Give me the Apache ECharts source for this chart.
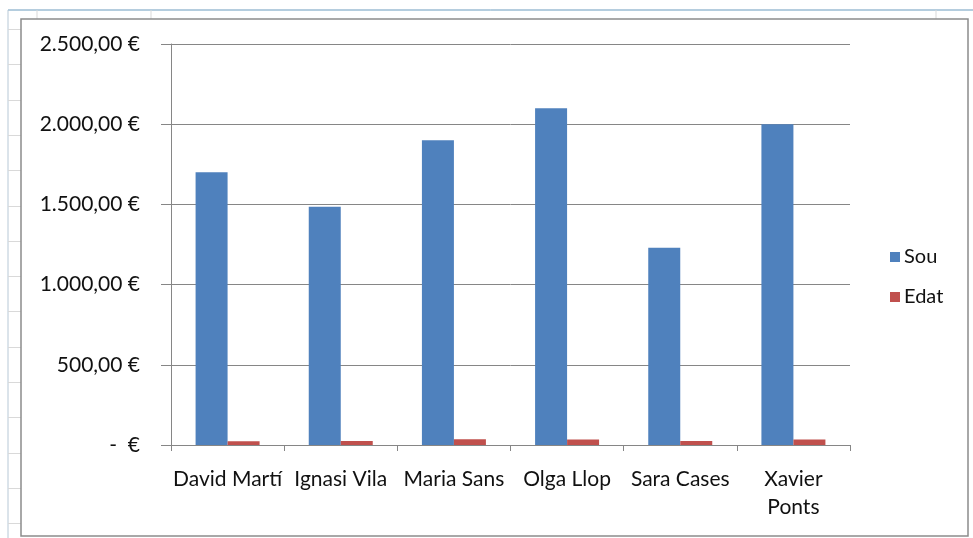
<!DOCTYPE html>
<html>
<head>
<meta charset="utf-8">
<script src="https://cdn.jsdelivr.net/npm/echarts@6/dist/echarts.min.js"></script>
<style>
  html, body { margin: 0; padding: 0; background: #fff; }
  #chart { width: 973px; height: 538px; }
</style>
</head>
<body>
<div id="chart"></div>
<script>
const names = ['David Martí', 'Ignasi Vila', 'Maria Sans', 'Olga Llop', 'Sara Cases', 'Xavier Ponts'];
const sou = [1700, 1485, 1900, 2100, 1230, 2000];
const edat = [24, 25, 36, 35, 25, 35];

// spreadsheet cells behind the chart
const sheet = [
  { type: 'line', shape: { x1: 8, y1: 10, x2: 973, y2: 10 }, style: { stroke: '#6a9bbd', lineWidth: 1 } },
  { type: 'line', shape: { x1: 8, y1: 10, x2: 8, y2: 538 }, style: { stroke: '#b7c8d6', lineWidth: 1 } },
  { type: 'line', shape: { x1: 37, y1: 10, x2: 37, y2: 19 }, style: { stroke: '#d9d9d9', lineWidth: 1 } },
  { type: 'line', shape: { x1: 151, y1: 10, x2: 151, y2: 19 }, style: { stroke: '#d9d9d9', lineWidth: 1 } },
  { type: 'line', shape: { x1: 936, y1: 10, x2: 936, y2: 19 }, style: { stroke: '#d9d9d9', lineWidth: 1 } }
];
for (let y = 29; y < 538; y += 35.3) {
  sheet.push({ type: 'line', shape: { x1: 8, y1: Math.round(y) + 0.5, x2: 21, y2: Math.round(y) + 0.5 }, style: { stroke: '#d9d9d9', lineWidth: 1 } });
}
sheet.push({ type: 'rect', shape: { x: 21, y: 19, width: 947, height: 517 }, style: { fill: '#fff', stroke: '#8c8c8c', lineWidth: 1.5 }, z: -1 });

function euro(v) {
  if (v === 0) return '-  €';
  const s = String(v).replace(/\B(?=(\d{3})+(?!\d))/g, '.');
  return s + ',00 €';
}

const font = 'Lato';
const chart = echarts.init(document.getElementById('chart'));
chart.setOption({
  backgroundColor: '#fff',
  textStyle: { fontFamily: font },
  graphic: sheet.map(g => Object.assign({ silent: true, z: g.z === undefined ? -1 : g.z }, g)),
  grid: { left: 171, right: 123, top: 44, bottom: 93 },
  legend: {
    orient: 'vertical',
    left: 885,
    top: 242,
    itemWidth: 10,
    itemHeight: 10,
    itemGap: 20,
    icon: 'rect',
    textStyle: { fontFamily: font, fontSize: 20, color: '#111', padding: [0, 0, 0, -1] },
    data: ['Sou', 'Edat']
  },
  xAxis: {
    type: 'category',
    data: names,
    axisLine: { lineStyle: { color: '#868686', width: 1 } },
    axisTick: { show: true, length: 6, lineStyle: { color: '#868686' } },
    axisLabel: {
      color: '#111',
      fontSize: 21,
      margin: 20,
      lineHeight: 28,
      interval: 0,
      formatter: v => v === 'Xavier Ponts' ? 'Xavier\nPonts' : v
    }
  },
  yAxis: {
    type: 'value',
    min: 0,
    max: 2500,
    interval: 500,
    axisLine: { show: true, lineStyle: { color: '#868686', width: 1 } },
    axisTick: { show: true, length: 10, lineStyle: { color: '#868686' } },
    splitLine: { lineStyle: { color: '#868686', width: 1 } },
    axisLabel: { color: '#111', fontSize: 21, margin: 31, formatter: euro }
  },
  series: [
    { name: 'Sou', type: 'bar', data: sou, barWidth: 32, barGap: '0%', itemStyle: { color: '#4f81bd' } },
    { name: 'Edat', type: 'bar', data: edat, barWidth: 32, barGap: '0%', itemStyle: { color: '#c0504d' } }
  ]
});
</script>
</body>
</html>
